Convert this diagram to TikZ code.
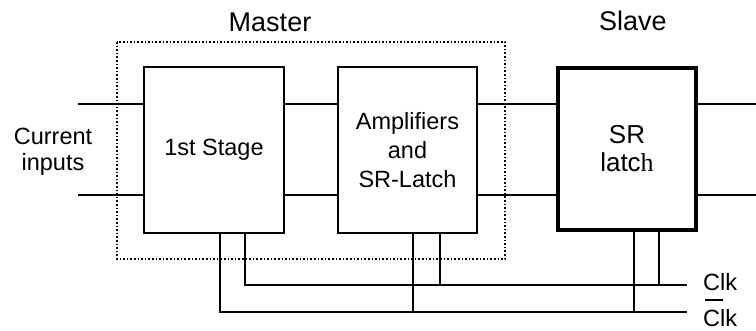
\documentclass[tikz,border=0pt]{standalone}
\usepackage{fontspec}
\setmainfont{Liberation Sans}
\newfontfamily\serifh{Liberation Serif}
\begin{document}
\begin{tikzpicture}[x=1pt,y=-1pt,
  wire/.style={line width=1.8pt},
  blk/.style={draw,line width=1.8pt,minimum width=140pt,minimum height=166pt,inner sep=0pt,align=center,font=\fontsize{23.5}{26}\selectfont},
  thickblk/.style={blk,line width=3.6pt,minimum width=138pt,minimum height=162pt,font=\fontsize{26}{28}\selectfont},
  lbl/.style={font=\fontsize{23.5}{26}\selectfont,align=center,inner sep=0pt},
  big/.style={font=\fontsize{27}{30}\selectfont,inner sep=0pt}]
\useasboundingbox (0,0) rectangle (756,331);
% master dotted box
\draw[line width=1.6pt,dotted] (117,42) rectangle (505,259);
\node[big] (master) at (270,22) {Master};
\node[big] (slave) at (633,21) {Slave};
% blocks
\node[blk] (s1) at (214,150) {1st Stage};
\node[blk,minimum width=139pt] (amp) at (407.5,150) {Amplifiers\\[3pt]and\\[3pt]SR-Latch};
\node[thickblk] (sr) at (627,149) {SR\\latc{\serifh h}};
% input label
\node[lbl] (cin) at (53,152) {Current\\inputs};
% inputs
\coordinate (i1) at (78,104);
\coordinate (i2) at (78,195);
\draw[wire] (i1) -- (i1 -| s1.west);
\draw[wire] (i2) -- (i2 -| s1.west);
% between blocks
\draw[wire] (s1.east |- i1) -- (amp.west |- i1);
\draw[wire] (s1.east |- i2) -- (amp.west |- i2);
\draw[wire] (amp.east |- i1) -- (sr.west |- i1);
\draw[wire] (amp.east |- i2) -- (sr.west |- i2);
% outputs
\coordinate (o1) at (756,104);
\coordinate (o2) at (756,195);
\draw[wire] (sr.east |- o1) -- (o1);
\draw[wire] (sr.east |- o2) -- (o2);
% clock lines
\coordinate (clkA) at (245,285);
\coordinate (clkE) at (687,285);
\coordinate (nclkA) at (220,312);
\coordinate (nclkE) at (687,312);
\draw[wire] (s1.south -| clkA) -- (clkA) -- (clkE);
\draw[wire] (s1.south -| nclkA) -- (nclkA) -- (nclkE);
\draw[wire] (amp.south -| 440,0) -- (440,285);
\draw[wire] (amp.south -| 413,0) -- (413,312);
\draw[wire] (sr.south -| 659,0) -- (659,285);
\draw[wire] (sr.south -| 634,0) -- (634,312);
\node[lbl,anchor=west] (clk) at (703,282) {Clk};
\node[lbl,anchor=west] (nclk) at (703,318) {Clk};
\draw[line width=1.6pt] ([xshift=2pt]nclk.west |- 0,300) -- ([xshift=20pt]nclk.west |- 0,300);
\end{tikzpicture}
\end{document}
